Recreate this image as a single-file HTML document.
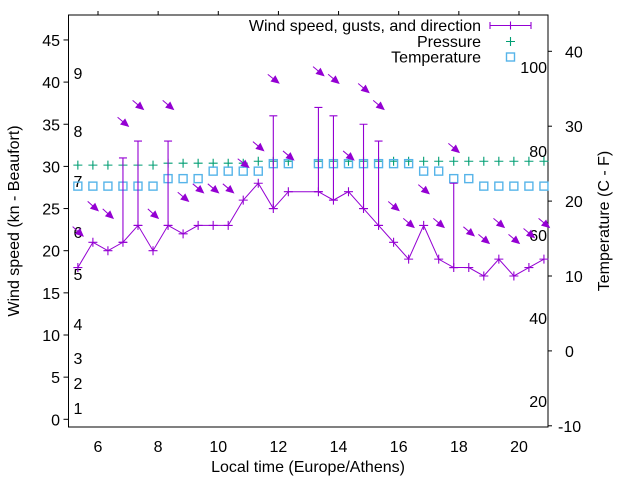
<!DOCTYPE html>
<html><head><meta charset="utf-8"><style>
body{margin:0;background:#fff;}
svg{display:block;font-family:"Liberation Sans",sans-serif;}
</style></head><body>
<svg id="chart" width="640" height="480" viewBox="0 0 640 480">
<rect width="640" height="480" fill="#fff"/>
<g id="axes"></g>
<g id="plot"></g>
<g id="legend"></g>
</svg>
<script>
const times = [5.33,5.83,6.33,6.83,7.33,7.83,8.33,8.83,9.33,9.83,10.33,10.83,11.33,11.83,12.33,13.33,13.83,14.33,14.83,15.33,15.83,16.33,16.83,17.33,17.83,18.33,18.83,19.33,19.83,20.33,20.83];
const speed = [18,21,20,21,23,20,23,22,23,23,23,26,28,25,27,27,26,27,25,23,21,19,23,19,18,18,17,19,17,18,19];
const gust  = [null,null,null,31,33,null,33,null,null,null,null,null,null,36,null,37,36,null,35,33,null,null,null,null,28,null,null,null,null,null,null];
const arrowLevel = [22.3,25.3,24.4,35.3,37.3,24.4,37.3,26.4,27.4,27.4,27.4,30.4,32.4,40.4,31.3,41.3,40.4,31.3,39.3,37.3,25.3,23.3,27.3,23.3,32.2,22.3,21.4,23.3,21.4,22.1,23.3];
const direction = [312,312,312,310,310,312,310,310,310,310,310,308,310,308,310,310,310,310,310,310,310,310,310,310,310,310,310,310,310,310,310];
const pressure = [1013,1013,1013,1013,1013,1013,1014,1014,1014,1014,1014,1014,1015,1015,1015,1015,1015,1015,1015,1015,1015,1015,1015,1015,1015,1015,1015,1015,1015,1015,1015];
const temperature = [22,22,22,22,22,22,23,23,23,24,24,24,24,25,25,25,25,25,25,25,25,25,24,24,23,23,22,22,22,22,22];
const xTicks = [6,8,10,12,14,16,18,20];
const yTicks = [0,5,10,15,20,25,30,35,40,45];
const y2Ticks = [-10,0,10,20,30,40];
const beaufort = ["1","2","3","4","5","6","7","8","9"];
const fahrenheit = ["20","40","60","80","100"];

const L=68.5,R=548,T=15,B=427;
const X=t=>98+(t-6)*30.07;
const Y=v=>419.3-v*8.43;
const Y2=c=>276-(c-10)*7.49;
const P=p=>Y(30.15+(p-1013)*0.23);
const PUR="#9400d3",GRN="#009e73",BLU="#56b4e9";
const NS="http://www.w3.org/2000/svg";
function mk(parent,tag,attrs,text){const e=document.createElementNS(NS,tag);for(const k in attrs)e.setAttribute(k,attrs[k]);if(text!==undefined)e.textContent=text;parent.appendChild(e);return e;}
const axes=document.getElementById('axes'),plot=document.getElementById('plot'),leg=document.getElementById('legend');

let e=mk(axes,'rect',{x:L,y:T,width:R-L,height:B-T,fill:'none',stroke:'#000','stroke-width':1});

xTicks.forEach(t=>{const x=X(t);
 mk(axes,'line',{x1:x,y1:T,x2:x,y2:T-4,stroke:'#000'});
 let l=mk(axes,'text',{x:x,y:452,'font-size':16,'text-anchor':'middle',fill:'#000'},t);
 });
yTicks.forEach(v=>{const y=Y(v);
 mk(axes,'line',{x1:L,y1:y,x2:L-5,y2:y,stroke:'#000'});
 let l=mk(axes,'text',{x:60,y:y+6,'font-size':16,'text-anchor':'end',fill:'#000'},v);
 });
y2Ticks.forEach(v=>{const y=Y2(v);
 mk(axes,'line',{x1:R,y1:y,x2:R+4,y2:y,stroke:'#000'});
 let l=mk(axes,'text',{x:v<0?558:565,y:y+6,'font-size':16,fill:'#000'},v);
 });
const bfY=[408,383,358,324,274,232,181,131,73];
beaufort.forEach((s,i)=>{let l=mk(axes,'text',{x:78,y:bfY[i]+6,'font-size':16,'text-anchor':'middle',fill:'#000'},s);
 });
const fY=[401,318,235,151,67];
fahrenheit.forEach((s,i)=>{let l=mk(axes,'text',{x:547,y:fY[i]+6,'font-size':16,'text-anchor':'end',fill:'#000'},s);
 });
e=mk(axes,'text',{x:308,y:472,'font-size':16,'text-anchor':'middle',fill:'#000'},'Local time (Europe/Athens)');

e=mk(axes,'text',{x:0,y:0,'font-size':16,'text-anchor':'middle',fill:'#000',transform:'translate(19,221) rotate(-90)'},'Wind speed (kn - Beaufort)');

e=mk(axes,'text',{x:0,y:0,'font-size':16,'text-anchor':'middle',fill:'#000',transform:'translate(609,221) rotate(-90)'},'Temperature (C - F)');


function plus(g,x,y,c,s){mk(g,'path',{d:`M${x-s},${y}H${x+s}M${x},${y-s}V${y+s}`,stroke:c,fill:'none','stroke-width':1.1});}
function sq(g,x,y){mk(g,'rect',{x:x-4,y:y-4,width:8,height:8,fill:'none',stroke:BLU,'stroke-width':1.4});}

times.forEach((t,i)=>{const g=mk(plot,'g',{});
 
 plus(g,X(t),P(pressure[i]),GRN,4.5);});
times.forEach((t,i)=>{const g=mk(plot,'g',{});
 
 sq(g,X(t),Y2(temperature[i]));});
e=mk(plot,'polyline',{points:times.map((t,i)=>X(t)+','+Y(speed[i])).join(' '),fill:'none',stroke:PUR,'stroke-width':1});

times.forEach((t,i)=>{const x=X(t);const g=mk(plot,'g',{});
 
 plus(g,x,Y(speed[i]),PUR,4.5);
 if(gust[i]!==null){const y1=Y(speed[i]),y2=Y(gust[i]);
  mk(g,'path',{d:`M${x},${y1}V${y2}M${x-4},${y2}H${x+4}M${x-4},${y1}H${x+4}`,stroke:PUR,fill:'none','stroke-width':1.1});}});
times.forEach((t,i)=>{const cx=X(t),cy=Y(arrowLevel[i]);
 const to=(direction[i]+180)*Math.PI/180;const dx=Math.sin(to),dy=-Math.cos(to);
 const len=14,x1=cx-dx*len/2,y1=cy-dy*len/2,x2=cx+dx*len/2,y2=cy+dy*len/2;
 const hx=x2-dx*7,hy=y2-dy*7,nx=-dy,ny=dx;
 const g=mk(plot,'g',{});
 
 mk(g,'line',{x1:x1,y1:y1,x2:hx,y2:hy,stroke:PUR,'stroke-width':1});
 mk(g,'polygon',{points:`${x2},${y2} ${hx+nx*3.2},${hy+ny*3.2} ${hx-nx*3.2},${hy-ny*3.2}`,fill:PUR,stroke:PUR,'stroke-width':1});});

const lg=[['Wind speed, gusts, and direction',25.5],['Pressure',41.5],['Temperature',57]];
lg.forEach((r,i)=>{const g=mk(leg,'g',{});
 
 mk(g,'text',{x:481,y:r[1]+5.5,'font-size':16,'text-anchor':'end',fill:'#000'},r[0]);
 if(i===0){mk(g,'path',{d:`M490,${r[1]}H531M490,${r[1]-3.5}V${r[1]+3.5}M531,${r[1]-3.5}V${r[1]+3.5}`,stroke:PUR,fill:'none','stroke-width':1.1});plus(g,510.5,r[1],PUR,4);}
 else if(i===1)plus(g,510.5,r[1],GRN,4.5);else sq(g,510.5,r[1]);});
</script>
</body></html>
